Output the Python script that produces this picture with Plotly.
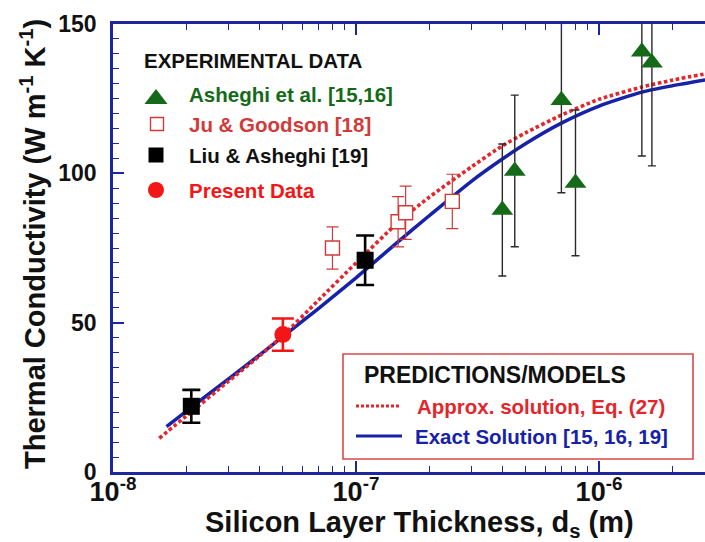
import plotly.graph_objects as go

# ---------------- measured thermal conductivity (W m^-1 K^-1) ----------------
# Asheghi et al. [15,16]
ash_thickness = [4.0e-7, 4.5e-7, 7.0e-7, 8.0e-7, 1.5e-6, 1.65e-6]
ash_k = [87.7, 100.8, 124.5, 96.8, 140.7, 137.0]
ash_err = [22.1, 25.4, 31.0, 24.4, 34.9, 34.5]

# Ju & Goodson [18]
ju_thickness = [8.0e-8, 1.49e-7, 1.60e-7, 2.49e-7]
ju_k = [75.0, 83.8, 86.8, 90.6]
ju_err = [7.1, 8.4, 8.9, 9.1]

# Liu & Asheghi [19]
liu_thickness = [2.1e-8, 1.09e-7]
liu_k = [22.0, 70.9]
liu_err = [5.5, 8.3]

# Present data
present_thickness = [5.0e-8]
present_k = [46.0]
present_err = [5.4]

# ---------------- model predictions ----------------
approx_thickness = [1.55e-8, 2e-8, 3e-8, 4e-8, 5e-8, 7e-8, 1e-7, 1.5e-7, 2e-7,
                    3e-7, 4e-7, 5e-7, 7e-7, 1e-6, 1.5e-6, 2e-6, 3e-6]
approx_k = [11.3, 18.7, 30.5, 38.8, 45.7, 57.5, 70.0, 83.8, 92.0,
            102.3, 109.2, 113.6, 119.5, 124.8, 128.9, 131.2, 133.9]

exact_thickness = [1.66e-8, 2e-8, 3e-8, 4e-8, 5e-8, 7e-8, 1e-7, 1.5e-7, 2e-7,
                   3e-7, 4e-7, 5e-7, 7e-7, 1e-6, 1.5e-6, 2e-6, 3e-6]
exact_k = [15.2, 20.3, 31.3, 39.1, 45.3, 54.7, 65.0, 77.3, 85.8,
           97.5, 104.8, 110.0, 116.8, 122.5, 127.2, 129.3, 131.8]

# ---------------- axis ticks ----------------
x_tick_values = [1e-8, 1e-7, 1e-6]
x_tick_labels = ["10<sup>-8</sup>", "10<sup>-7</sup>", "10<sup>-6</sup>"]
x_minor_values = [m * d for d in (1e-8, 1e-7, 1e-6) for m in range(2, 10)]
y_tick_values = [0, 50, 100, 150]

# ---------------- styling ----------------
FONT = "Arial, 'Liberation Sans', Helvetica, sans-serif"
AXIS = "#1c26a0"
BLUE = "#1622a8"
RED_DOT = "#e3262b"
GREEN = "#146a18"
JU_RED = "#d23a3a"
PRESENT_RED = "#f41616"

W, H = 705, 542
L, R, T, B = 113, 0, 24, 70


def fx(px):
    """Pixel column -> paper fraction of the plot area."""
    return (px - L) / (W - L - R)


def fy(py):
    """Pixel row -> paper fraction of the plot area."""
    return (H - B - py) / (H - T - B)


fig = go.Figure()

fig.add_trace(go.Scatter(
    x=exact_thickness, y=exact_k, mode="lines",
    line=dict(color=BLUE, width=3.5, shape="spline", smoothing=0.6),
    name="Exact Solution [15, 16, 19]", showlegend=False))

fig.add_trace(go.Scatter(
    x=approx_thickness, y=approx_k, mode="lines",
    line=dict(color=RED_DOT, width=3.6, dash="3.6px,2.6px",
              shape="spline", smoothing=0.6),
    name="Approx. solution, Eq. (27)", showlegend=False))

fig.add_trace(go.Scatter(
    x=ash_thickness, y=ash_k, mode="markers",
    marker=dict(symbol="triangle-up", size=19, color=GREEN, opacity=1),
    error_y=dict(type="data", array=ash_err, color="#2a2a2a",
                 thickness=1.4, width=4),
    name="Asheghi et al. [15,16]", showlegend=False))

fig.add_trace(go.Scatter(
    x=ju_thickness, y=ju_k, mode="markers",
    marker=dict(symbol="square", size=14, color="white", opacity=1,
                line=dict(color=JU_RED, width=1.4)),
    error_y=dict(type="data", array=ju_err, color=JU_RED,
                 thickness=1.2, width=6),
    name="Ju & Goodson [18]", showlegend=False))

fig.add_trace(go.Scatter(
    x=liu_thickness, y=liu_k, mode="markers",
    marker=dict(symbol="square", size=17, color="black", opacity=1),
    error_y=dict(type="data", array=liu_err, color="black",
                 thickness=2.6, width=9),
    name="Liu & Asheghi [19]", showlegend=False))

fig.add_trace(go.Scatter(
    x=present_thickness, y=present_k, mode="markers",
    marker=dict(symbol="circle", size=17, color=PRESENT_RED, opacity=1),
    error_y=dict(type="data", array=present_err, color=PRESENT_RED,
                 thickness=2.6, width=11),
    name="Present Data", showlegend=False))

# key symbols for the experimental data block, on an overlay in plot-area fractions
key_symbols = [
    # (x px, y px, symbol, size, fill, outline, outline width)
    (156, 99, "triangle-up", 20, GREEN, GREEN, 0),
    (157, 124, "square", 13, "white", JU_RED, 1.4),
    (156, 155, "square", 15, "black", "black", 0),
    (156, 190, "circle", 16, PRESENT_RED, PRESENT_RED, 0),
]
for px, py, sym, size, fill, edge, ew in key_symbols:
    fig.add_trace(go.Scatter(
        x=[fx(px)], y=[fy(py)], xaxis="x2", yaxis="y2", mode="markers",
        showlegend=False, hoverinfo="skip",
        marker=dict(symbol=sym, size=size, color=fill, opacity=1,
                    line=dict(color=edge, width=ew))))

bold = dict(family=FONT, weight="bold")

annotations = [
    # axis titles
    dict(text="Silicon Layer Thickness, d<sub>s</sub> (m)",
         x=fx(420), y=fy(524), xanchor="center", yanchor="middle",
         font=dict(size=29, color="#111", **bold)),
    dict(text="Thermal Conductivity (W m<sup>-1</sup> K<sup>-1</sup>)",
         x=fx(33), y=fy(244), xanchor="center", yanchor="middle", textangle=-90,
         font=dict(size=29, color="#111", **bold)),
    # experimental data key
    dict(text="EXPERIMENTAL DATA", x=fx(142), y=fy(60),
         xanchor="left", yanchor="middle", font=dict(size=20.5, color="#111", **bold)),
    dict(text="Asheghi et al. [15,16]", x=fx(187), y=fy(94),
         xanchor="left", yanchor="middle", font=dict(size=20.5, color=GREEN, **bold)),
    dict(text="Ju & Goodson [18]", x=fx(187), y=fy(124),
         xanchor="left", yanchor="middle", font=dict(size=20.5, color=JU_RED, **bold)),
    dict(text="Liu & Asheghi [19]", x=fx(187), y=fy(155),
         xanchor="left", yanchor="middle", font=dict(size=20.5, color="#111", **bold)),
    dict(text="Present Data", x=fx(187), y=fy(190),
         xanchor="left", yanchor="middle", font=dict(size=20.5, color=PRESENT_RED, **bold)),
    # model key
    dict(text="PREDICTIONS/MODELS", x=fx(362), y=fy(375),
         xanchor="left", yanchor="middle", font=dict(size=23, color="#111", **bold)),
    dict(text="Approx. solution, Eq. (27)", x=fx(415), y=fy(406),
         xanchor="left", yanchor="middle", font=dict(size=20.5, color=RED_DOT, **bold)),
    dict(text="Exact Solution [15, 16, 19]", x=fx(413), y=fy(436),
         xanchor="left", yanchor="middle", font=dict(size=20.5, color=BLUE, **bold)),
]
for a in annotations:
    a.update(xref="paper", yref="paper", showarrow=False)

shapes = [
    dict(type="rect", xref="paper", yref="paper",
         x0=fx(343), x1=fx(693), y0=fy(459), y1=fy(354),
         line=dict(color="#d84a4a", width=1.6), fillcolor="rgba(0,0,0,0)"),
    dict(type="line", xref="paper", yref="paper",
         x0=fx(356), x1=fx(400), y0=fy(406), y1=fy(406),
         line=dict(color=RED_DOT, width=3, dash="3px,2px")),
    dict(type="line", xref="paper", yref="paper",
         x0=fx(356), x1=fx(402), y0=fy(436), y1=fy(436),
         line=dict(color=BLUE, width=3)),
]

fig.update_layout(
    width=W, height=H,
    margin=dict(l=L, r=R, t=T, b=B, pad=0),
    paper_bgcolor="white", plot_bgcolor="white",
    font=dict(family=FONT, color="#111"),
    showlegend=False,
    annotations=annotations,
    shapes=shapes,
    xaxis=dict(
        type="log", range=[-8, -5.564],
        showgrid=False, zeroline=False,
        showline=True, linecolor=AXIS, linewidth=2.5, mirror="ticks",
        ticks="inside", ticklen=11, tickwidth=1.5, tickcolor=AXIS,
        tickmode="array", tickvals=x_tick_values, ticktext=x_tick_labels,
        tickfont=dict(size=27, color="#111", **bold),
        ticklabelstandoff=-6,
        minor=dict(tickmode="array", tickvals=x_minor_values, ticks="inside",
                   ticklen=6, tickwidth=1.3, tickcolor=AXIS, showgrid=False),
    ),
    yaxis=dict(
        range=[0, 150],
        showgrid=False, zeroline=False,
        showline=True, linecolor=AXIS, linewidth=2.5,
        ticks="inside", ticklen=11, tickwidth=1.5, tickcolor=AXIS,
        tickmode="array", tickvals=y_tick_values,
        tickfont=dict(size=23, color="#111", **bold),
        ticklabelstandoff=9,
        minor=dict(dtick=5, ticks="inside", ticklen=6, tickwidth=1.3,
                   tickcolor=AXIS, showgrid=False),
    ),
    xaxis2=dict(overlaying="x", anchor="y2", range=[0, 1], visible=False,
                fixedrange=True),
    yaxis2=dict(overlaying="y", anchor="x2", range=[0, 1], visible=False,
                fixedrange=True),
)

fig.write_html("out.html")
